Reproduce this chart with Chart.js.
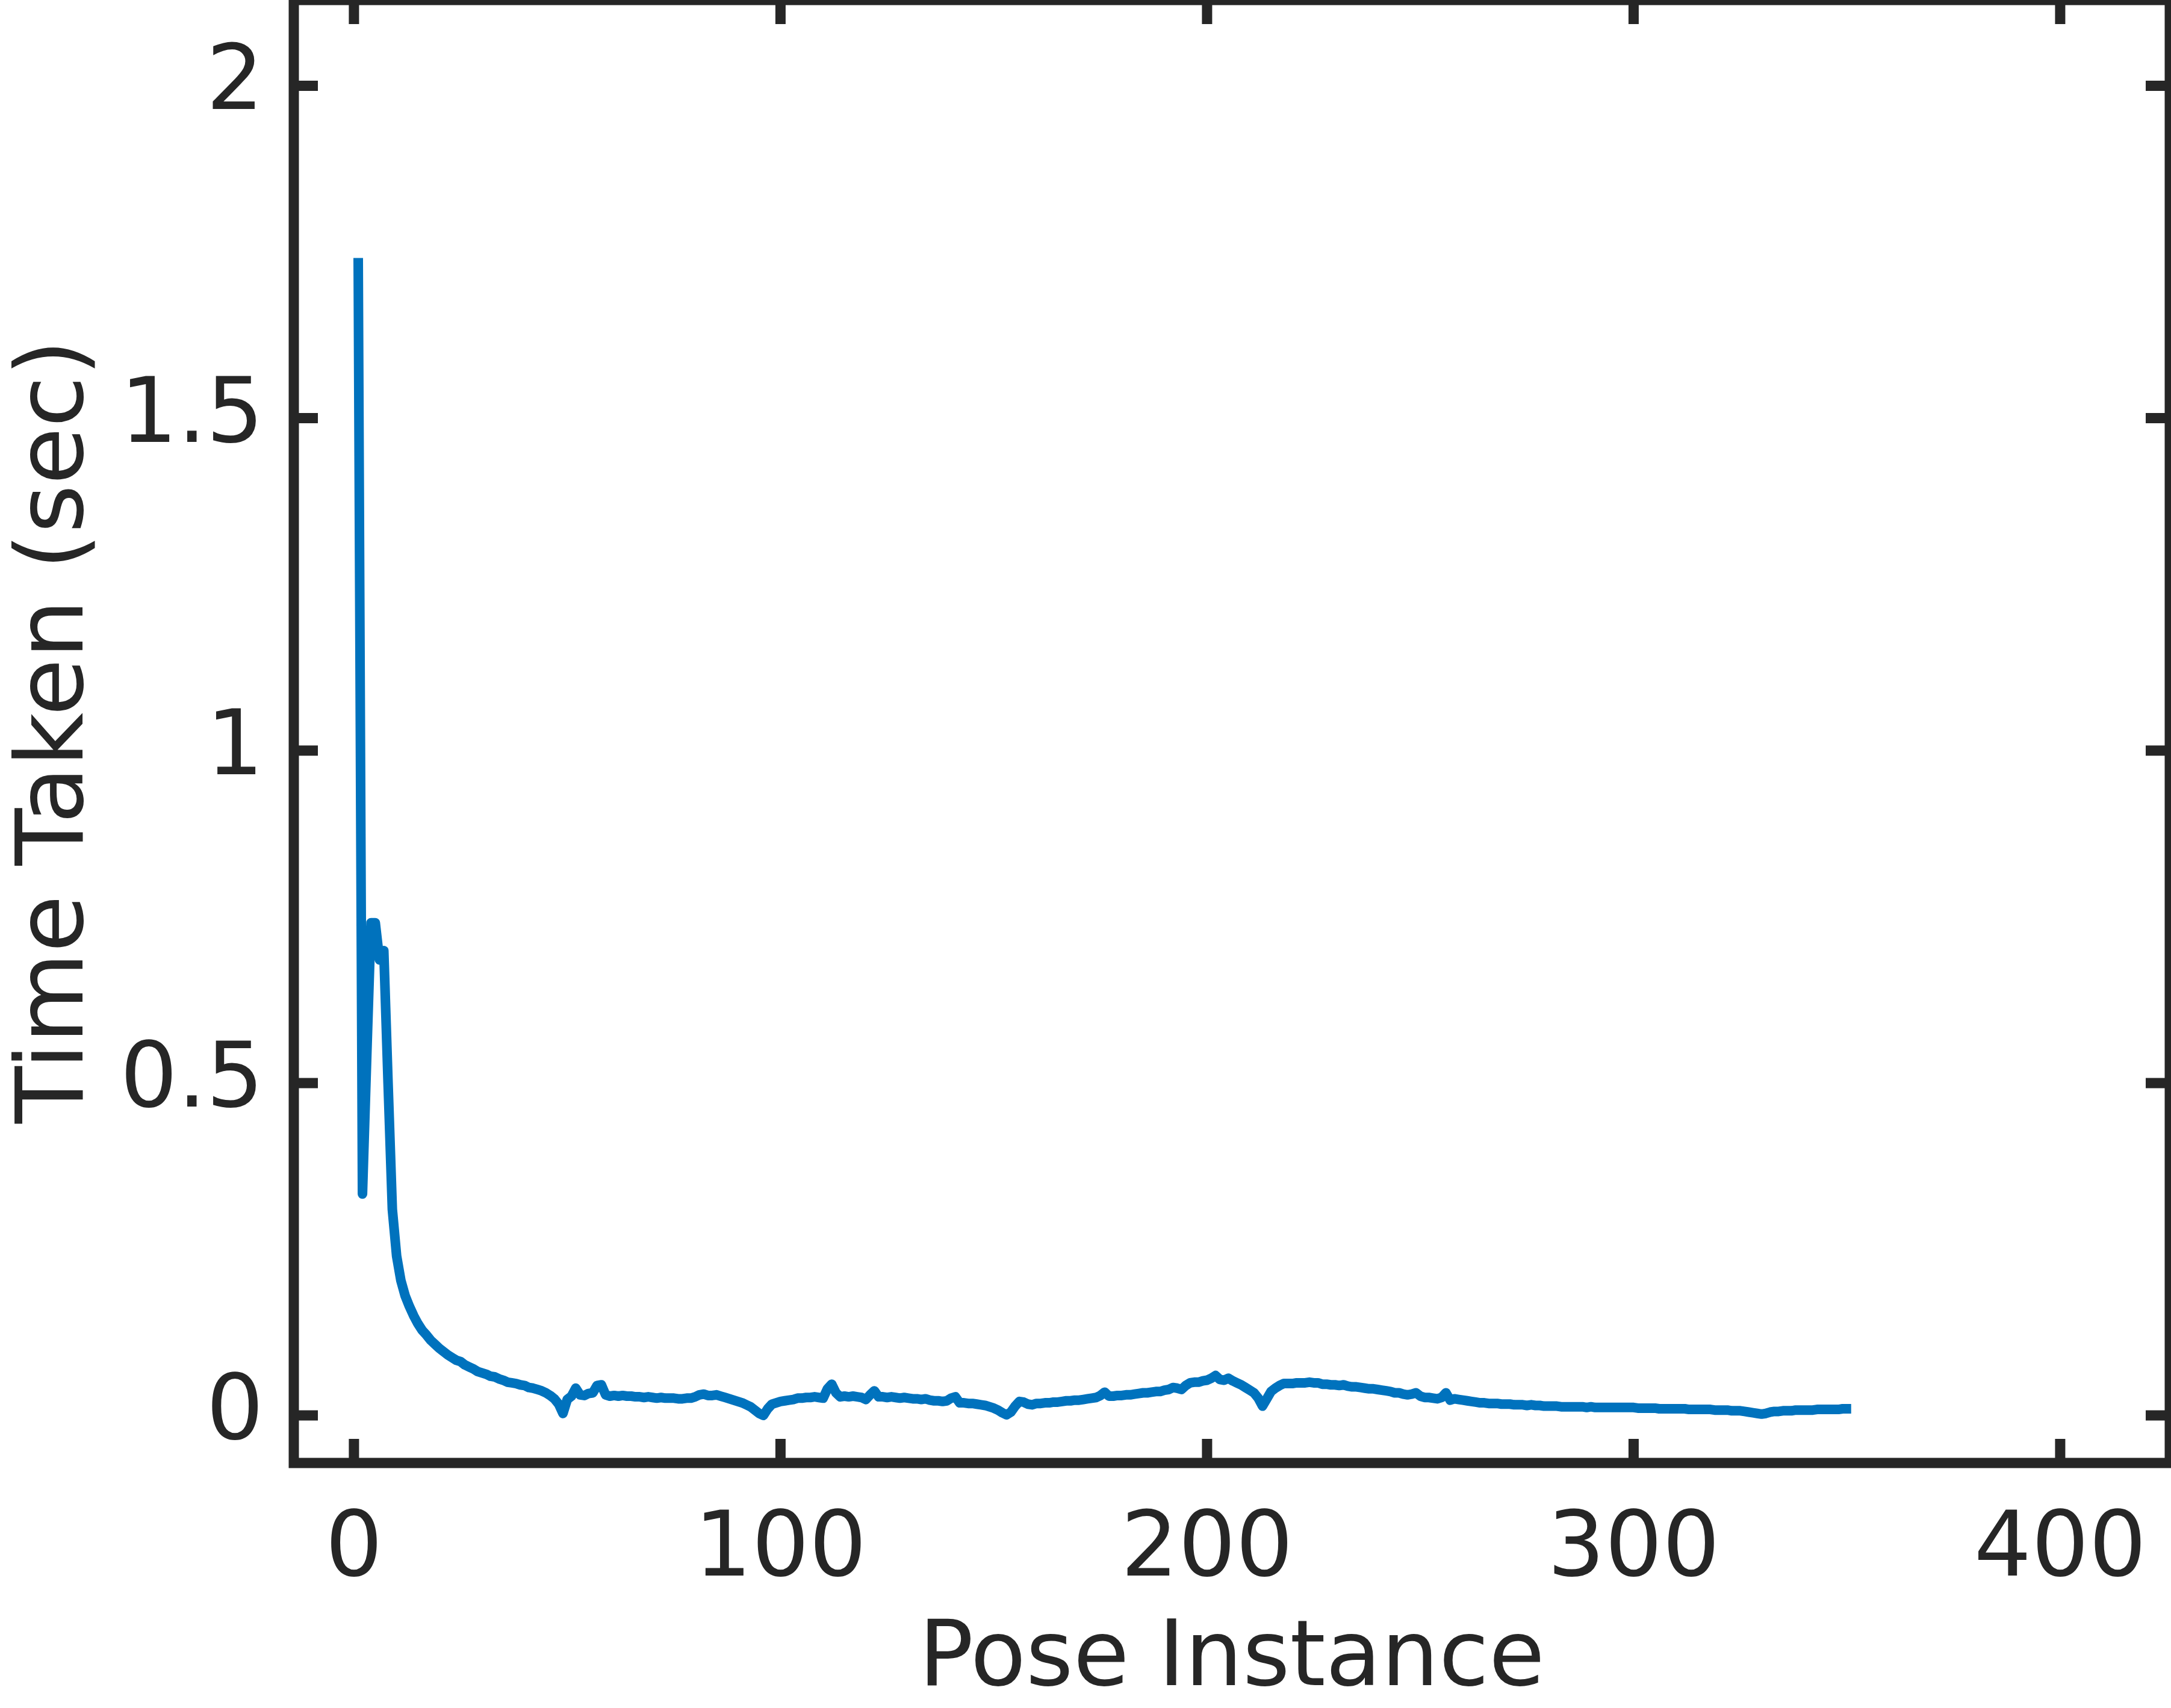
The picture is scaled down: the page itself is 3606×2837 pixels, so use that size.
<!DOCTYPE html>
<html>
<head>
<meta charset="utf-8">
<title>Time Taken per Pose Instance</title>
<script src="https://cdn.jsdelivr.net/npm/chart.js@4.4.1/dist/chart.umd.min.js"></script>
<style>
  html, body { margin: 0; padding: 0; background: #ffffff; }
  #chart { display: block; }
</style>
</head>
<body>
<canvas id="chart" width="3606" height="2837"></canvas>
<script>
// time taken (sec) for each pose instance, starting at pose 1
const firstPose = 1;
const timeTaken = [
    1.741, 0.333, 0.540, 0.741, 0.741, 0.685, 0.699, 0.500, 0.310, 0.240,
    0.203, 0.180, 0.164, 0.150, 0.138, 0.128, 0.121, 0.113, 0.107, 0.101,
    0.096, 0.091, 0.087, 0.083, 0.081, 0.076, 0.073, 0.070, 0.066, 0.064,
    0.062, 0.059, 0.058, 0.055, 0.053, 0.050, 0.049, 0.048, 0.046, 0.045,
    0.042, 0.041, 0.039, 0.037, 0.034, 0.030, 0.025, 0.017, 0.003, 0.024,
    0.029, 0.041, 0.031, 0.030, 0.033, 0.034, 0.045, 0.046, 0.031, 0.029,
    0.030, 0.029, 0.030, 0.029, 0.029, 0.028, 0.028, 0.027, 0.028, 0.027,
    0.026, 0.027, 0.026, 0.026, 0.026, 0.025, 0.025, 0.026, 0.026, 0.028,
    0.031, 0.032, 0.030, 0.030, 0.031, 0.029, 0.027, 0.025, 0.023, 0.021,
    0.019, 0.016, 0.013, 0.008, 0.003, 0.000, 0.010, 0.017, 0.019, 0.021,
    0.022, 0.023, 0.024, 0.026, 0.026, 0.027, 0.027, 0.028, 0.027, 0.026,
    0.040, 0.047, 0.034, 0.028, 0.029, 0.028, 0.029, 0.028, 0.027, 0.024,
    0.031, 0.037, 0.028, 0.028, 0.027, 0.028, 0.027, 0.026, 0.027, 0.026,
    0.025, 0.025, 0.024, 0.025, 0.023, 0.022, 0.022, 0.021, 0.022, 0.026,
    0.028, 0.019, 0.019, 0.018, 0.018, 0.017, 0.016, 0.015, 0.013, 0.011,
    0.008, 0.004, 0.001, 0.005, 0.014, 0.021, 0.020, 0.017, 0.016, 0.018,
    0.018, 0.019, 0.019, 0.020, 0.020, 0.021, 0.022, 0.022, 0.023, 0.023,
    0.024, 0.025, 0.026, 0.027, 0.030, 0.035, 0.029, 0.029, 0.030, 0.030,
    0.031, 0.031, 0.032, 0.033, 0.034, 0.034, 0.035, 0.036, 0.036, 0.038,
    0.039, 0.042, 0.041, 0.039, 0.045, 0.049, 0.050, 0.050, 0.052, 0.053,
    0.056, 0.060, 0.054, 0.053, 0.056, 0.052, 0.049, 0.046, 0.042, 0.038,
    0.034, 0.026, 0.014, 0.025, 0.036, 0.041, 0.045, 0.048, 0.048, 0.048,
    0.049, 0.049, 0.049, 0.050, 0.049, 0.049, 0.047, 0.047, 0.046, 0.046,
    0.045, 0.046, 0.044, 0.043, 0.043, 0.042, 0.041, 0.040, 0.040, 0.039,
    0.038, 0.037, 0.036, 0.034, 0.034, 0.032, 0.031, 0.032, 0.034, 0.029,
    0.027, 0.027, 0.026, 0.025, 0.027, 0.034, 0.023, 0.025, 0.024, 0.023,
    0.022, 0.021, 0.020, 0.019, 0.019, 0.018, 0.018, 0.018, 0.017, 0.017,
    0.017, 0.016, 0.016, 0.016, 0.015, 0.016, 0.015, 0.015, 0.014, 0.014,
    0.014, 0.014, 0.013, 0.013, 0.013, 0.013, 0.013, 0.013, 0.012, 0.013,
    0.012, 0.012, 0.012, 0.012, 0.012, 0.012, 0.012, 0.012, 0.012, 0.012,
    0.011, 0.011, 0.011, 0.011, 0.011, 0.010, 0.010, 0.010, 0.010, 0.010,
    0.010, 0.010, 0.009, 0.009, 0.009, 0.009, 0.009, 0.009, 0.008, 0.008,
    0.008, 0.008, 0.007, 0.007, 0.007, 0.006, 0.005, 0.004, 0.003, 0.002,
    0.003, 0.005, 0.006, 0.006, 0.007, 0.007, 0.007, 0.008, 0.008, 0.008,
    0.008, 0.008, 0.009, 0.009, 0.009, 0.009, 0.009, 0.009, 0.010, 0.010,
    0.010
];

const xTickValues = [0, 100, 200, 300, 400];
const yTickValues = [0, 0.5, 1, 1.5, 2];
const xLimits = [-14.1, 425.7];
const yLimits = [-0.0715, 2.129];

const xTitle = 'Pose Instance';
const yTitle = 'Time Taken (sec)';

const lineColor = '#0072BD';
const axisColor = '#262626';
const fontFamily = "'DejaVu Sans', sans-serif";

// matlab style box with inward ticks on all four sides
const boxTicks = {
    id: 'boxTicks',
    afterDatasetsDraw(chart) {
        const ctx = chart.ctx;
        const a = chart.chartArea;
        const xs = chart.scales.x;
        const ys = chart.scales.y;
        const lw = 17;
        const len = 40;

        ctx.save();
        ctx.strokeStyle = axisColor;
        ctx.lineWidth = lw;
        ctx.lineCap = 'butt';
        ctx.lineJoin = 'miter';

        ctx.beginPath();
        for (const v of xTickValues) {
            const px = xs.getPixelForValue(v);
            ctx.moveTo(px, a.bottom);
            ctx.lineTo(px, a.bottom - len);
            ctx.moveTo(px, a.top);
            ctx.lineTo(px, a.top + len);
        }
        for (const v of yTickValues) {
            const py = ys.getPixelForValue(v);
            ctx.moveTo(a.left, py);
            ctx.lineTo(a.left + len, py);
            ctx.moveTo(a.right, py);
            ctx.lineTo(a.right - len, py);
        }
        ctx.stroke();

        ctx.strokeRect(a.left, a.top, a.right - a.left, a.bottom - a.top);
        ctx.restore();
    }
};

const points = timeTaken.map((t, i) => ({ x: firstPose + i, y: t }));

new Chart(document.getElementById('chart'), {
    type: 'line',
    data: {
        datasets: [{
            data: points,
            borderColor: lineColor,
            borderWidth: 16,
            borderJoinStyle: 'round',
            borderCapStyle: 'butt',
            pointRadius: 0,
            tension: 0,
            fill: false
        }]
    },
    options: {
        responsive: false,
        devicePixelRatio: 1,
        animation: false,
        layout: { padding: { top: 0, right: 2, bottom: 0, left: 0 } },
        plugins: {
            legend: { display: false },
            tooltip: { enabled: false }
        },
        scales: {
            x: {
                type: 'linear',
                min: xLimits[0],
                max: xLimits[1],
                grid: { display: false, drawTicks: false },
                border: { display: false },
                afterBuildTicks: (scale) => {
                    scale.ticks = xTickValues.map(v => ({ value: v }));
                },
                afterFit: (scale) => {
                    scale.height = 407;
                    scale.paddingLeft = 0;
                    scale.paddingRight = 0;
                },
                ticks: {
                    autoSkip: false,
                    maxRotation: 0,
                    padding: 58,
                    color: axisColor,
                    font: { family: fontFamily, size: 150 },
                    callback: (v) => String(v)
                },
                title: {
                    display: true,
                    text: xTitle,
                    color: axisColor,
                    font: { family: fontFamily, size: 151, lineHeight: 1 },
                    padding: { top: 0, bottom: 2 }
                }
            },
            y: {
                type: 'linear',
                min: yLimits[0],
                max: yLimits[1],
                grid: { display: false, drawTicks: false },
                border: { display: false },
                afterBuildTicks: (scale) => {
                    scale.ticks = yTickValues.map(v => ({ value: v }));
                },
                afterFit: (scale) => {
                    scale.width = 488;
                    scale.paddingTop = 0;
                    scale.paddingBottom = 0;
                },
                ticks: {
                    autoSkip: false,
                    padding: 50,
                    color: axisColor,
                    font: { family: fontFamily, size: 150 },
                    callback: (v) => String(v)
                },
                title: {
                    display: true,
                    text: yTitle,
                    color: axisColor,
                    font: { family: fontFamily, size: 155, lineHeight: 1 },
                    padding: { top: 19, bottom: 0 }
                }
            }
        }
    },
    plugins: [boxTicks]
});
</script>
</body>
</html>
